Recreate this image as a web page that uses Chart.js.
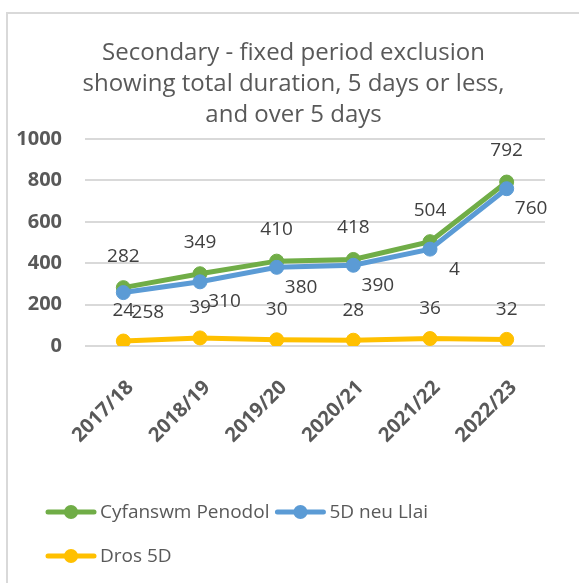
<!DOCTYPE html>
<html>
<head>
<meta charset="utf-8">
<script src="https://cdn.jsdelivr.net/npm/chart.js@4.4.1/dist/chart.umd.min.js"></script>
<style>
  html, body { margin: 0; padding: 0; background: #ffffff; }
  #wrap { width: 579px; height: 583px; position: relative; }
</style>
</head>
<body>
<div id="wrap"><canvas id="chart"></canvas></div>
<script>
// Chart data
const years = ['2017/18', '2018/19', '2019/20', '2020/21', '2021/22', '2022/23'];
const totalValues = [282, 349, 410, 418, 504, 792];   // Cyfanswm Penodol
const shortValues = [258, 310, 380, 390, 468, 760];   // 5D neu Llai
const longValues = [24, 39, 30, 28, 36, 32];          // Dros 5D
const yTicks = [0, 200, 400, 600, 800, 1000];

const seriesNames = ['Cyfanswm Penodol', '5D neu Llai', 'Dros 5D'];
const seriesColors = ['#70AD47', '#5B9BD5', '#FFC000'];

// label text as shown in the source (the 2021/22 blue label is cut to "4" there)
const shortLabelText = shortValues.map(String);
shortLabelText[4] = '4';

const FONT = "'Open Sans', 'DejaVu Sans', sans-serif";
const TEXT = '#595959';
const LABEL = '#404040';
const GRID = '#D9D9D9';

// white background + the light frame (top and left edges only)
const frame = {
    id: 'frame',
    beforeDraw(chart) {
        const ctx = chart.ctx;
        ctx.save();
        ctx.fillStyle = '#ffffff';
        ctx.fillRect(0, 0, chart.width, chart.height);
        ctx.strokeStyle = GRID;
        ctx.lineWidth = 2;
        ctx.beginPath();
        ctx.moveTo(7, chart.height);
        ctx.lineTo(7, 13);
        ctx.lineTo(chart.width, 13);
        ctx.stroke();
        ctx.restore();
    }
};

// value labels next to each point
const valueLabels = {
    id: 'valueLabels',
    afterDatasetsDraw(chart) {
        const ctx = chart.ctx;
        ctx.save();
        ctx.font = `19px ${FONT}`;
        ctx.fillStyle = LABEL;
        ctx.textAlign = 'center';
        ctx.textBaseline = 'middle';
        chart.data.datasets.forEach((ds, i) => {
            const meta = chart.getDatasetMeta(i);
            const off = ds.labelOffset;
            meta.data.forEach((pt, j) => {
                const txt = ds.labelText ? ds.labelText[j] : String(ds.data[j]);
                ctx.fillText(txt, pt.x + off[0], pt.y + off[1]);
            });
        });
        ctx.restore();
    }
};

// Excel-like legend: line with a dot, wrapping rows, left aligned
const lineLegend = {
    id: 'lineLegend',
    afterDraw(chart) {
        const ctx = chart.ctx;
        const startX = 46, rowY = [512, 556], maxX = 480;
        let x = startX, row = 0;
        ctx.save();
        ctx.font = `19px ${FONT}`;
        ctx.textBaseline = 'middle';
        ctx.textAlign = 'left';
        chart.data.datasets.forEach(ds => {
            const w = 54 + ctx.measureText(ds.label).width;
            if (x > startX && x + w > maxX) { row++; x = startX; }
            const y = rowY[row];
            ctx.strokeStyle = ds.borderColor;
            ctx.lineWidth = 5;
            ctx.lineCap = 'round';
            ctx.beginPath();
            ctx.moveTo(x + 2, y);
            ctx.lineTo(x + 48, y);
            ctx.stroke();
            ctx.fillStyle = ds.borderColor;
            ctx.beginPath();
            ctx.arc(x + 25, y, 7, 0, Math.PI * 2);
            ctx.fill();
            ctx.fillStyle = TEXT;
            ctx.fillText(ds.label, x + 54, y + 1);
            x += w + 6;
        });
        ctx.restore();
    }
};

function makeSeries(i, values, offset, order) {
    return {
        label: seriesNames[i],
        data: values,
        borderColor: seriesColors[i],
        backgroundColor: seriesColors[i],
        borderWidth: 5,
        pointRadius: 7,
        pointBorderWidth: 1,
        pointBackgroundColor: seriesColors[i],
        pointBorderColor: seriesColors[i],
        tension: 0,
        order: order,
        labelOffset: offset
    };
}

const datasets = [
    makeSeries(0, totalValues, [0, -31.5], 2),
    Object.assign(makeSeries(1, shortValues, [24.5, 20], 1), { labelText: shortLabelText }),
    makeSeries(2, longValues, [0, -30], 3)
];

new Chart(document.getElementById('chart'), {
    type: 'line',
    data: { labels: years, datasets: datasets },
    plugins: [frame, valueLabels, lineLegend],
    options: {
        responsive: true,
        maintainAspectRatio: false,
        animation: false,
        layout: { padding: { left: 12, right: 4, top: 20, bottom: 137 } },
        plugins: {
            legend: { display: false },
            tooltip: { enabled: false },
            title: {
                display: true,
                text: ['Secondary - fixed period exclusion', 'showing total duration, 5 days or less,', 'and over 5 days'],
                color: TEXT,
                font: { family: FONT, size: 24, weight: 'normal', lineHeight: 31 / 24 },
                padding: { top: 17.5, bottom: 8.5 }
            }
        },
        scales: {
            x: {
                offset: true,
                grid: { display: false },
                border: { display: false },
                ticks: {
                    color: TEXT,
                    font: { family: FONT, size: 20, weight: 'bold' },
                    minRotation: 45,
                    maxRotation: 45,
                    padding: 22,
                    labelOffset: 7
                },
                afterFit(scale) { scale.height = 100; }
            },
            y: {
                min: 0,
                max: 1000,
                afterBuildTicks(scale) { scale.ticks = yTicks.map(v => ({ value: v })); },
                grid: { color: GRID, lineWidth: 2, drawTicks: false },
                border: { display: false },
                ticks: {
                    color: TEXT,
                    font: { family: FONT, size: 20, weight: 'bold' },
                    padding: 23,
                    callback: v => String(v)
                },
                afterFit(scale) { scale.width = 73; }
            },
            // empty spacer on the right so the plot ends where the source does
            spacer: {
                position: 'right',
                grid: { display: false },
                border: { display: false },
                ticks: { display: false },
                afterFit(scale) { scale.width = 30; }
            }
        }
    }
});
</script>
</body>
</html>
